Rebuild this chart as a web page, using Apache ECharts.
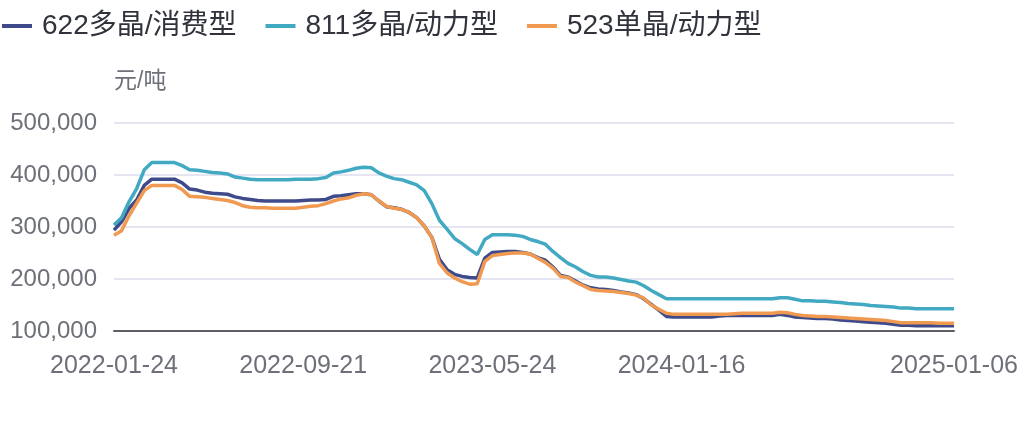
<!DOCTYPE html>
<html>
<head>
<meta charset="utf-8">
<script src="https://cdn.jsdelivr.net/npm/echarts@6/dist/echarts.min.js"></script>
<style>
html,body{margin:0;padding:0;background:#fff;}
#chart{width:1034px;height:440px;}
</style>
</head>
<body>
<div id="chart"></div>
<script>
// Tick labels shown on the x axis and number of sampled points between consecutive ticks
const tickLabels = ['2022-01-24', '2022-09-21', '2023-05-24', '2024-01-16', '2025-01-06'];
const stepsBetweenTicks = [25, 25, 25, 36];

const seriesNames = ['622多晶/消费型', '811多晶/动力型', '523单晶/动力型'];

// 元/吨
const values622 = [
  294000, 310000, 336000, 352000, 380000, 392000, 392000, 392000, 392000, 385000,
  373000, 371000, 367000, 365000, 364000, 363000, 358000, 355000, 353000, 351000,
  350000, 350000, 350000, 350000, 350000, 351000, 352000, 352000, 353000, 359000,
  360000, 362000, 364000, 364000, 362000, 350000, 339000, 337000, 334000, 328000,
  318000, 302000, 280000, 238000, 218000, 209000, 205000, 203000, 202000, 240000,
  251000, 252000, 253000, 253000, 251000, 248000, 241000, 236000, 223000, 207000,
  204000, 196000, 188000, 183000, 181000, 180000, 178000, 175000, 173000, 170000,
  162000, 151000, 140000, 128000, 127000, 127000, 127000, 127000, 127000, 127000,
  129000, 130000, 130000, 130000, 130000, 130000, 130000, 130000, 132000, 130000,
  127000, 126000, 125000, 124000, 124000, 123000, 121000, 120000, 119000, 118000,
  117000, 116000, 115000, 113000, 111000, 111000, 110000, 110000, 110000, 110000,
  110000, 110000
];
const values811 = [
  304000, 318000, 349000, 374000, 410000, 424000, 424000, 424000, 424000, 418000,
  410000, 409000, 407000, 405000, 404000, 402000, 396000, 394000, 392000, 391000,
  391000, 391000, 391000, 391000, 392000, 392000, 392000, 393000, 395000, 404000,
  406000, 409000, 413000, 415000, 414000, 404000, 398000, 393000, 391000, 386000,
  381000, 370000, 345000, 313000, 296000, 278000, 268000, 257000, 247000, 276000,
  285000, 285000, 285000, 284000, 282000, 276000, 272000, 267000, 253000, 241000,
  230000, 223000, 214000, 207000, 204000, 204000, 202000, 199000, 196000, 194000,
  187000, 178000, 170000, 162000, 162000, 162000, 162000, 162000, 162000, 162000,
  162000, 162000, 162000, 162000, 162000, 162000, 162000, 162000, 164000, 164000,
  161000, 158000, 158000, 157000, 157000, 156000, 155000, 153000, 152000, 151000,
  149000, 148000, 147000, 146000, 144000, 144000, 143000, 143000, 143000, 143000,
  143000, 143000
];
const values523 = [
  284000, 293000, 322000, 346000, 370000, 380000, 380000, 380000, 380000, 372000,
  359000, 358000, 357000, 355000, 353000, 351000, 347000, 341000, 338000, 337000,
  337000, 336000, 336000, 336000, 336000, 338000, 340000, 341000, 345000, 350000,
  354000, 356000, 361000, 364000, 362000, 350000, 340000, 336000, 334000, 328000,
  318000, 302000, 280000, 230000, 212000, 202000, 195000, 190000, 191000, 234000,
  245000, 247000, 249000, 250000, 250000, 248000, 240000, 232000, 221000, 205000,
  203000, 194000, 187000, 180000, 178000, 177000, 176000, 174000, 172000, 169000,
  163000, 150000, 142000, 134000, 132000, 132000, 132000, 132000, 132000, 132000,
  132000, 132000, 133000, 134000, 134000, 134000, 134000, 134000, 136000, 135000,
  132000, 130000, 129000, 128000, 128000, 127000, 126000, 125000, 124000, 123000,
  122000, 121000, 120000, 118000, 116000, 116000, 116000, 116000, 116000, 115000,
  115000, 115000
];

const colors = ['#3e4a8a', '#42a9c2', '#ef9a50'];

// Build the category list (dates) from the tick labels
const DAY = 86400000;
function fmt(t) {
  const d = new Date(t);
  const m = String(d.getUTCMonth() + 1).padStart(2, '0');
  const dd = String(d.getUTCDate()).padStart(2, '0');
  return d.getUTCFullYear() + '-' + m + '-' + dd;
}
const categories = [];
const tickIndices = [0];
for (let s = 0; s < stepsBetweenTicks.length; s++) {
  const a = Date.parse(tickLabels[s] + 'T00:00:00Z');
  const b = Date.parse(tickLabels[s + 1] + 'T00:00:00Z');
  const n = stepsBetweenTicks[s];
  const days = Math.round((b - a) / DAY);
  for (let k = 0; k < n; k++) {
    categories.push(fmt(a + Math.round(k * days / n) * DAY));
  }
  tickIndices.push(tickIndices[tickIndices.length - 1] + n);
}
categories.push(tickLabels[tickLabels.length - 1]);

const chart = echarts.init(document.getElementById('chart'), null, { renderer: 'canvas' });
const font = '"Liberation Sans", "Noto Sans CJK SC", sans-serif';

chart.setOption({
  animation: false,
  color: colors,
  textStyle: { fontFamily: font },
  legend: {
    left: 2,
    top: 12,
    padding: 0,
    itemWidth: 30,
    itemHeight: 4,
    itemGap: 29,
    icon: 'rect',
    textStyle: { fontSize: 28, color: '#30333c', fontFamily: font, padding: [0, 0, 0, 5] },
    data: seriesNames
  },
  grid: { left: 114, right: 80, top: 123, bottom: 109, containLabel: false },
  xAxis: {
    type: 'category',
    boundaryGap: false,
    data: categories,
    axisLine: { show: true, lineStyle: { color: '#5c5f66', width: 2 } },
    axisTick: { show: false },
    axisLabel: {
      interval: function (idx) { return tickIndices.indexOf(idx) >= 0; },
      showMaxLabel: true,
      fontSize: 25,
      color: '#6e7079',
      margin: 23,
      fontFamily: font
    },
    splitLine: { show: false }
  },
  yAxis: {
    type: 'value',
    min: 100000,
    max: 500000,
    interval: 100000,
    name: '元/吨',
    nameLocation: 'end',
    nameGap: 30,
    nameTextStyle: { fontSize: 23, color: '#6e7079', align: 'left', fontFamily: font },
    axisLine: { show: false },
    axisTick: { show: false },
    axisLabel: {
      fontSize: 24,
      color: '#6e7079',
      margin: 17,
      fontFamily: font,
      formatter: function (v) { return v.toLocaleString('en-US'); }
    },
    splitLine: { lineStyle: { color: '#e6e6f2', width: 2 } }
  },
  series: [
    { name: seriesNames[0], type: 'line', data: values622, showSymbol: false, lineStyle: { width: 3.5 } },
    { name: seriesNames[1], type: 'line', data: values811, showSymbol: false, lineStyle: { width: 3.5 } },
    { name: seriesNames[2], type: 'line', data: values523, showSymbol: false, lineStyle: { width: 3.5 } }
  ]
});
</script>
</body>
</html>
